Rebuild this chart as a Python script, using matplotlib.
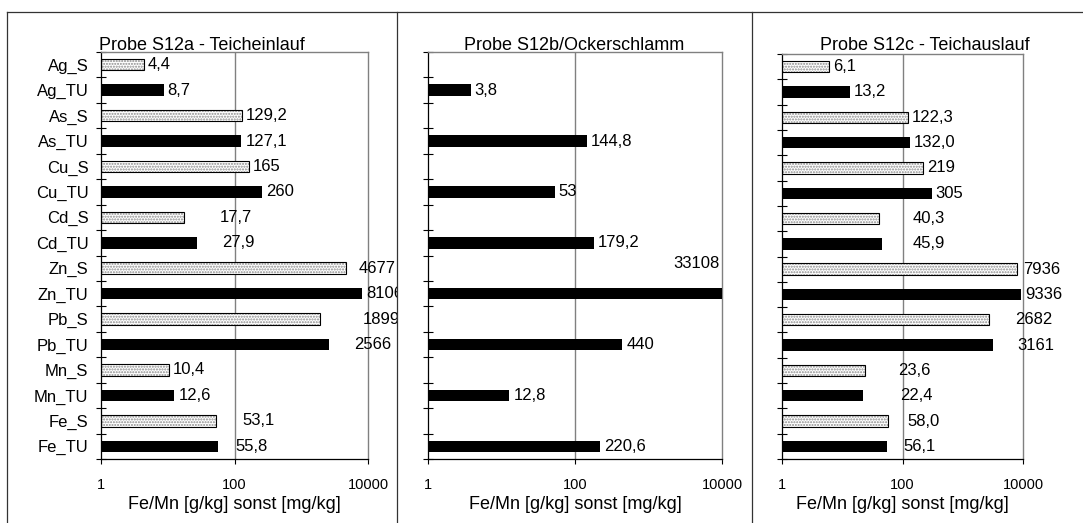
import numpy as np
import matplotlib.pyplot as plt
from matplotlib.patches import Rectangle
from matplotlib.lines import Line2D
from matplotlib.ticker import NullLocator

plt.rcParams['font.family'] = ['Liberation Sans', 'DejaVu Sans']

# categories from top to bottom
categories = ['Ag_S', 'Ag_TU', 'As_S', 'As_TU', 'Cu_S', 'Cu_TU', 'Cd_S', 'Cd_TU',
              'Zn_S', 'Zn_TU', 'Pb_S', 'Pb_TU', 'Mn_S', 'Mn_TU', 'Fe_S', 'Fe_TU']

# values as printed on the chart (german decimal comma), '' = no value
s12a = ['4,4', '8,7', '129,2', '127,1', '165', '260', '17,7', '27,9',
        '4677', '8106', '1899', '2566', '10,4', '12,6', '53,1', '55,8']
s12b = ['', '3,8', '', '144,8', '', '53', '', '179,2',
        '', '33108', '', '440', '', '12,8', '', '220,6']
s12c = ['6,1', '13,2', '122,3', '132,0', '219', '305', '40,3', '45,9',
        '7936', '9336', '2682', '3161', '23,6', '22,4', '58,0', '56,1']

titles = ['Probe S12a - Teicheinlauf', 'Probe S12b/Ockerschlamm', 'Probe S12c - Teichauslauf']
xlabel = 'Fe/Mn [g/kg] sonst [mg/kg]'
xticks = [1, 100, 10000]
xticklabels = ['1', '100', '10000']

W, H = 1083, 523
fig = plt.figure(figsize=(W / 100, H / 100), dpi=100)

def px_rect(x0, y0, x1, y1):
    # pixel box (top-left origin) -> figure fraction rect
    return [x0 / W, 1 - y1 / H, (x1 - x0) / W, (y1 - y0) / H]

# plot areas and surrounding chart frames (pixels)
axes_px = [(101, 52, 368, 459), (428, 52, 722, 459), (782, 54, 1023, 459)]
frames_px = [(7, 397), (397, 752), (752, 1097)]

# extra label shifts (pixels) where the labels sit further right than the bar end
label_shift = [
    {'Cd_S': 31, 'Cd_TU': 21, 'Zn_S': 9, 'Pb_S': 39, 'Pb_TU': 22, 'Fe_S': 22, 'Fe_TU': 14},
    {},
    {'Cd_S': 30, 'Cd_TU': 27, 'Zn_S': 2, 'Pb_S': 23, 'Pb_TU': 20, 'Mn_S': 29,
     'Mn_TU': 33, 'Fe_S': 15, 'Fe_TU': 12},
]

y = np.arange(len(categories))
is_s = np.array([c.endswith('_S') for c in categories])

for k, labels in enumerate([s12a, s12b, s12c]):
    ax = fig.add_axes(px_rect(*axes_px[k]))
    ax.set_xscale('log')
    vals = np.array([float(s.replace(',', '.')) if s else np.nan for s in labels])
    has = ~np.isnan(vals)

    m = is_s & has
    ax.barh(y[m], vals[m] - 1, left=1, height=0.45, color='white',
            edgecolor='#8a8a8a', hatch='......', linewidth=0, zorder=2)
    ax.barh(y[m], vals[m] - 1, left=1, height=0.45, fill=False,
            edgecolor='black', linewidth=0.8, zorder=3)
    m = ~is_s & has
    ax.barh(y[m], vals[m] - 1, left=1, height=0.45, color='black', zorder=3)

    ax.axvline(100, color='#808080', lw=1, zorder=1)

    fx0, fx1 = frames_px[k]
    clip = Rectangle((fx0 / W, 0), (fx1 - fx0) / W, 1 - 12 / H, transform=fig.transFigure)

    for i, (lab, v) in enumerate(zip(labels, vals)):
        if not lab:
            continue
        if v > 10000:
            t = ax.annotate(lab, xy=(1, i - 1), xycoords=('axes fraction', 'data'),
                            xytext=(-2, 5), textcoords='offset pixels',
                            ha='right', va='center', fontsize=12, annotation_clip=False)
        else:
            dx = 4 + label_shift[k].get(categories[i], 0)
            t = ax.annotate(lab, xy=(v, i), xytext=(dx, 0), textcoords='offset pixels',
                            ha='left', va='center', fontsize=12, annotation_clip=False)
        t.set_clip_path(clip)

    ax.set_xlim(1, 10000)
    ax.set_ylim(len(categories) - 0.5, -0.5)
    ax.set_xticks(xticks)
    ax.set_xticklabels(xticklabels)
    ax.xaxis.set_minor_locator(NullLocator())
    ax.tick_params(axis='x', direction='out', length=3.5, width=0.8, pad=10, labelsize=10.5)

    ax.set_yticks(y)
    ax.set_yticklabels(categories if k == 0 else [])
    ax.set_yticks(np.arange(-0.5, len(categories), 1), minor=True)
    ax.tick_params(axis='y', which='major', length=0, pad=9, labelsize=12)
    ax.tick_params(axis='y', which='minor', direction='inout', length=6.5, width=0.8)

    for side in ['top', 'right']:
        ax.spines[side].set_color('#808080')
        ax.spines[side].set_linewidth(1)
    for side in ['left', 'bottom']:
        ax.spines[side].set_color('black')
        ax.spines[side].set_linewidth(0.9)
    ax.set_xlabel(xlabel, fontsize=13, labelpad=3)

    fig.text((fx0 + fx1) / 2 / W, 1 - 50 / H, titles[k], ha='center', va='baseline', fontsize=13)

# chart frames
frame_kw = dict(transform=fig.transFigure, color='#333333', lw=0.9)
fig.add_artist(Line2D([7 / W, 1], [1 - 12 / H, 1 - 12 / H], **frame_kw))
for xp in [7, 397, 752]:
    fig.add_artist(Line2D([xp / W, xp / W], [0, 1 - 12 / H], **frame_kw))

fig.savefig('out.png', dpi=100)
